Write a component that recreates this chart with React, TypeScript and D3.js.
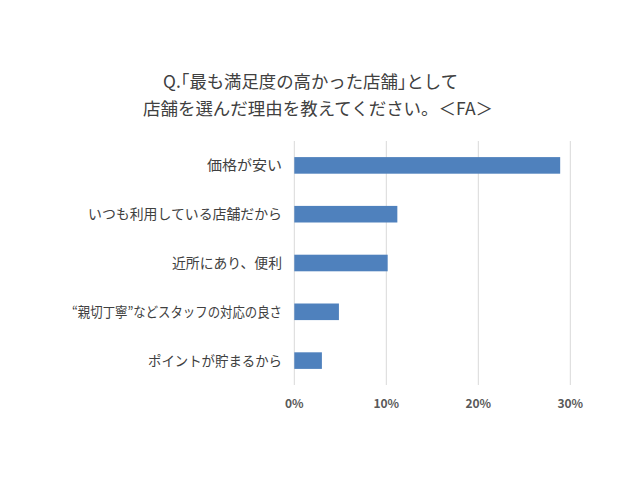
import React from "react";
import * as d3 from "d3";

const titleLines = ["Q.｢最も満足度の高かった店舗｣として", "店舗を選んだ理由を教えてください。＜FA＞"];
const categories = [
  "価格が安い",
  "いつも利用している店舗だから",
  "近所にあり、便利",
  "“親切丁寧”などスタッフの対応の良さ",
  "ポイントが貯まるから",
];
const values = [28.9, 11.2, 10.15, 4.85, 3.0];
const ticks = [0, 10, 20, 30];

// text fitting (style)
const titleSpans = [
  { cx: 310.5, w: 295 },
  { cx: 318, w: 350 },
];
const labelWidths = [75, 194, 110, 210, 134];

const W = 640;
const H = 480;
const left = 294.3;
const right = 570.3;
const top = 141;
const bottom = 385;
const FONT = "'Noto Sans CJK JP', 'Noto Sans', sans-serif";

export default function App() {
  const x = d3.scaleLinear().domain([0, 30]).range([left, right]);
  const y = d3
    .scaleBand<string>()
    .domain(categories)
    .range([top, bottom])
    .paddingInner(0.66)
    .paddingOuter(0.33);
  return (
    <svg width={W} height={H} style={{ position: "absolute", left: 0, top: 0, background: "#fff" }}>
      <rect width={W} height={H} fill="#fff" />
      {titleLines.map((t, i) => (
        <text
          key={i}
          x={titleSpans[i].cx - titleSpans[i].w / 2}
          y={88 + i * 27}
          textLength={titleSpans[i].w}
          lengthAdjust="spacingAndGlyphs"
          fontFamily={FONT}
          fontSize={17.5}
          fill="#404040"
        >
          {t}
        </text>
      ))}
      {ticks.map((t) => (
        <g key={t}>
          <line x1={x(t)} x2={x(t)} y1={top} y2={bottom} stroke="#d9d9d9" strokeWidth={1} />
          <text
            x={x(t)}
            y={408}
            textAnchor="middle"
            fontFamily={FONT}
            fontSize={12}
            fontWeight="bold"
            fill="#595959"
          >
            {t}%
          </text>
        </g>
      ))}
      {categories.map((c, i) => (
        <g key={c}>
          <rect x={x(0)} y={y(c)!} width={x(values[i]) - x(0)} height={y.bandwidth()} fill="#4F81BD" />
          <text
            x={282 - labelWidths[i]}
            y={y(c)! + y.bandwidth() / 2}
            dy="0.36em"
            textLength={labelWidths[i]}
            lengthAdjust="spacingAndGlyphs"
            fontFamily={FONT}
            fontSize={14}
            fill="#404040"
          >
            {c}
          </text>
        </g>
      ))}
    </svg>
  );
}
